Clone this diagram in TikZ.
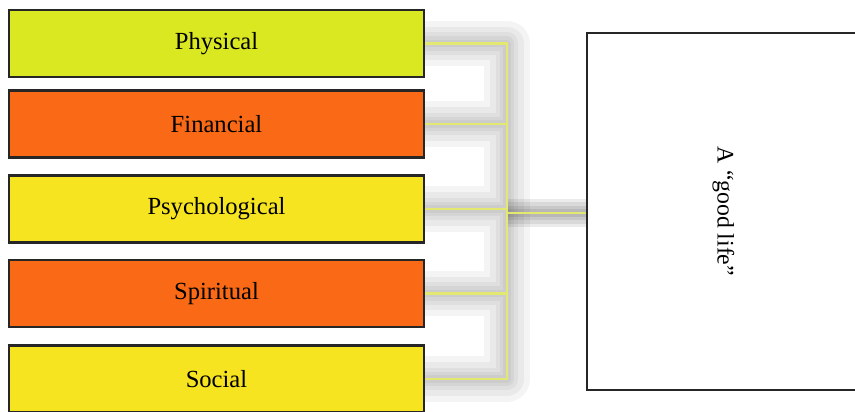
\documentclass[tikz,border=0pt]{standalone}
\usepackage{fontspec}
\setmainfont{Liberation Serif}
\usetikzlibrary{positioning,backgrounds}

\definecolor{limeink}{RGB}{218,232,34}
\definecolor{orangeink}{RGB}{250,106,22}
\definecolor{yellowink}{RGB}{246,228,32}
\definecolor{linkline}{RGB}{226,232,112}

\tikzset{
  area/.style={draw=black!85, line width=1.4pt, minimum width=8.3cm,
    minimum height=1.34cm, inner sep=0pt, font=\fontsize{14}{16}\selectfont},
  wire/.style={draw=linkline, line width=1.3pt},
  halo/.style={draw=black, line width=#1, opacity=0.045, line join=round},
}

\begin{document}
\begin{tikzpicture}[x=0.02cm,y=-0.02cm]
        \useasboundingbox (0,0) rectangle (855,412);
        \clip (0,0) rectangle (855,412);

        % the five areas
        \node[area,fill=limeink] (phys) at (216.5,43.5) {Physical};
        \node[area,fill=orangeink] (fin) at (216.5,124) {Financial};
        \node[area,fill=yellowink] (psych) at (216.5,209) {Psychological};
        \node[area,fill=orangeink] (spir) at (216.5,293.5) {Spiritual};
        \node[area,fill=yellowink] (soc) at (216.5,379) {Social};

        % target box, runs off the right edge
        \node[draw=black!85, line width=1.4pt, fill=white, minimum width=5.46cm,
          minimum height=7.14cm] (life) at (723.5,211.5) {};
        \node[rotate=-90, font=\fontsize{13.5}{16}\selectfont] (lifetext)
          at (life.center) {A “good life”};

        \coordinate (hub) at (507,209);
        \coordinate (trunk) at (507,213);

        % soft grey haze under the links
        \begin{scope}[on background layer]
          \foreach \w in {26pt,19pt,13pt,8pt,4pt}
            \draw[halo=\w, xshift=-0.07cm, yshift=0.05cm]
              (phys.east) -| (hub) (fin.east) -| (hub) (psych.east) -- (hub)
              (spir.east) -| (hub) (soc.east) -| (hub);
          \foreach \w in {16pt,12pt,8pt,5pt}
            \draw[halo=\w, opacity=0.08] (trunk) -- (trunk -| life.west);
        \end{scope}

        \foreach \b in {phys,fin,psych,spir,soc}
          \draw[wire] (\b.east) -| (hub);
        \draw[wire] (trunk) -- (trunk -| life.west);
\end{tikzpicture}
\end{document}
